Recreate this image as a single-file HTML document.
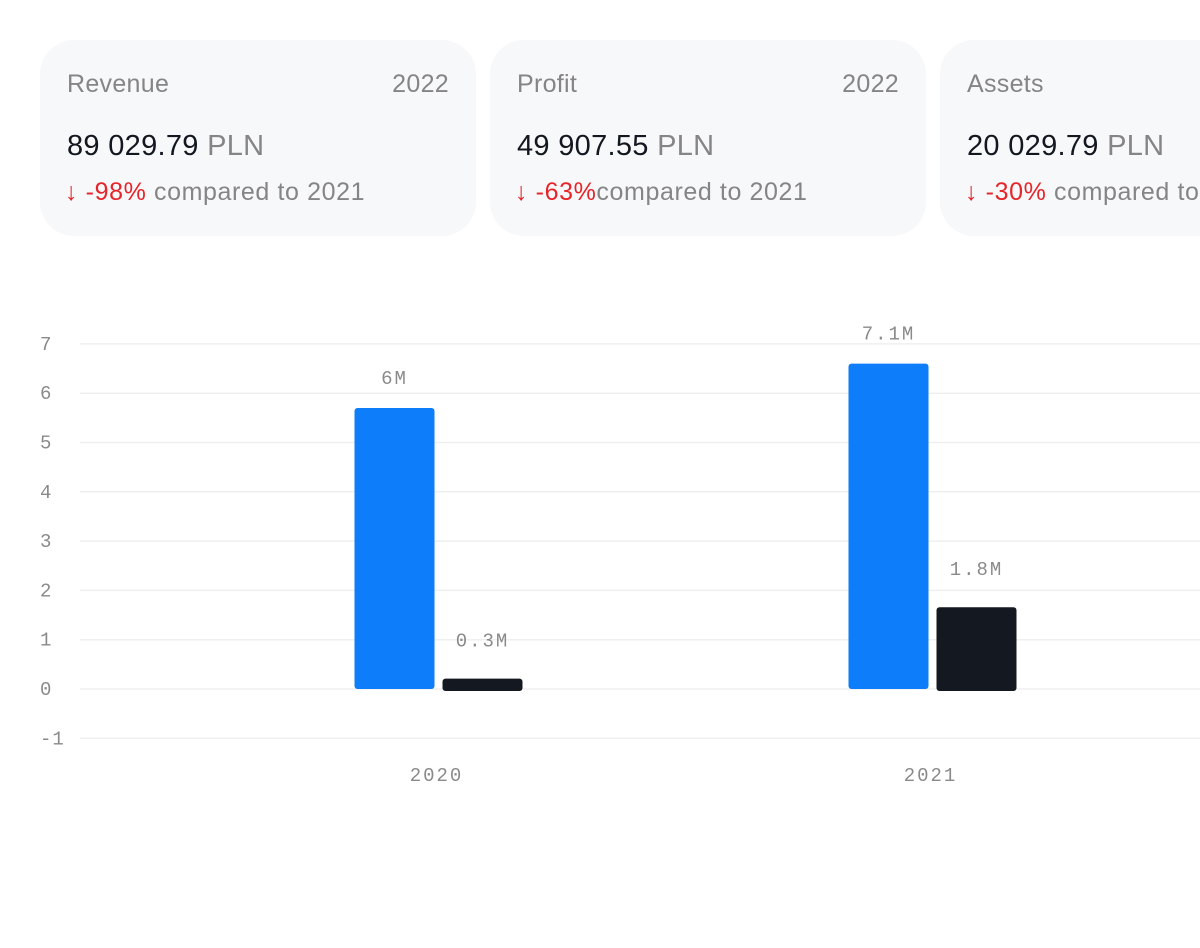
<!DOCTYPE html>
<html><head><meta charset="utf-8"><style>
html,body{margin:0;width:1200px;height:948px;overflow:hidden}
body{background:#fff;font-family:"Liberation Sans",sans-serif;position:relative}
#wrap{position:absolute;left:0;top:0;width:1200px;height:948px;overflow:hidden}
.card{position:absolute;top:40px;width:436px;height:196px;background:#f7f8fa;border-radius:34px;box-sizing:border-box}
.t{position:absolute;top:30px;font-size:25px;color:#858585;left:27px;letter-spacing:0.3px}
.yr{position:absolute;top:30px;right:27px;font-size:25px;color:#858585;letter-spacing:0.3px}
.v{position:absolute;top:90px;left:27px;font-size:29px;color:#13171f;white-space:nowrap;letter-spacing:0.3px}
.v span{color:#858585}
.c{position:absolute;top:138px;left:25px;font-size:25px;color:#858585;white-space:nowrap;letter-spacing:0.6px}
.c b{font-weight:normal;color:#e5252a}
</style></head><body><div id="wrap">
<div class="card" style="left:40px">
<div class="t">Revenue</div><div class="yr">2022</div>
<div class="v">89 029.79 <span>PLN</span></div>
<div class="c"><b>↓ -98%</b> compared to 2021</div></div>
<div class="card" style="left:490px">
<div class="t">Profit</div><div class="yr">2022</div>
<div class="v">49 907.55 <span>PLN</span></div>
<div class="c"><b>↓ -63%</b>compared to 2021</div></div>
<div class="card" style="left:940px">
<div class="t">Assets</div>
<div class="v">20 029.79 <span>PLN</span></div>
<div class="c"><b>↓ -30%</b> compared to 2021</div></div>
<svg id="chart" width="1200" height="948" style="position:absolute;left:0;top:0"></svg>
</div>
<script>
const categories=["2020","2021"];
const revenue=[5.7,6.6];
const profit=[0.25,1.7];
const revenueLabels=["6M","7.1M"];
const profitLabels=["0.3M","1.8M"];
const yTicks=[-1,0,1,2,3,4,5,6,7];
const svg=document.getElementById('chart');const NS="http://www.w3.org/2000/svg";
const y=v=>689-v*49.3;
const xc=i=>436.5+i*494;
function mk(t,a,p){const e=document.createElementNS(NS,t);for(const k in a)e.setAttribute(k,a[k]);(p||svg).appendChild(e);return e;}
const F='Liberation Mono,monospace';
yTicks.forEach(v=>{
 const l=mk('line',{x1:80,x2:1200,y1:y(v),y2:y(v),stroke:'#efefef','stroke-width':1.5});
 
 
 const t=mk('text',{x:40,y:y(v)+6,'font-family':F,'font-size':19,fill:'#8a8a8a','letter-spacing':1});t.textContent=v;
 
 
});
categories.forEach((c,i)=>{
 const cx=xc(i);
 const b=mk('rect',{x:cx-82,y:y(revenue[i]),width:80,height:y(0)-y(revenue[i]),rx:3,fill:'#0e7dfa'});
 
 
 const d=mk('rect',{x:cx+6,y:y(profit[i])+2,width:80,height:y(0)-y(profit[i]),rx:3,fill:'#141821'});
 
 
 const t1=mk('text',{x:cx-42,y:y(revenue[i])-24,'text-anchor':'middle','font-family':F,'font-size':19,fill:'#8a8a8a','letter-spacing':2});t1.textContent=revenueLabels[i];
 
 
 const t2=mk('text',{x:cx+46,y:y(profit[i])-30,'text-anchor':'middle','font-family':F,'font-size':19,fill:'#8a8a8a','letter-spacing':2});t2.textContent=profitLabels[i];
 
 
 const xl=mk('text',{x:cx,y:781,'text-anchor':'middle','font-family':F,'font-size':19,fill:'#8a8a8a','letter-spacing':2});xl.textContent=c;
 
 
});
</script>
</body></html>
